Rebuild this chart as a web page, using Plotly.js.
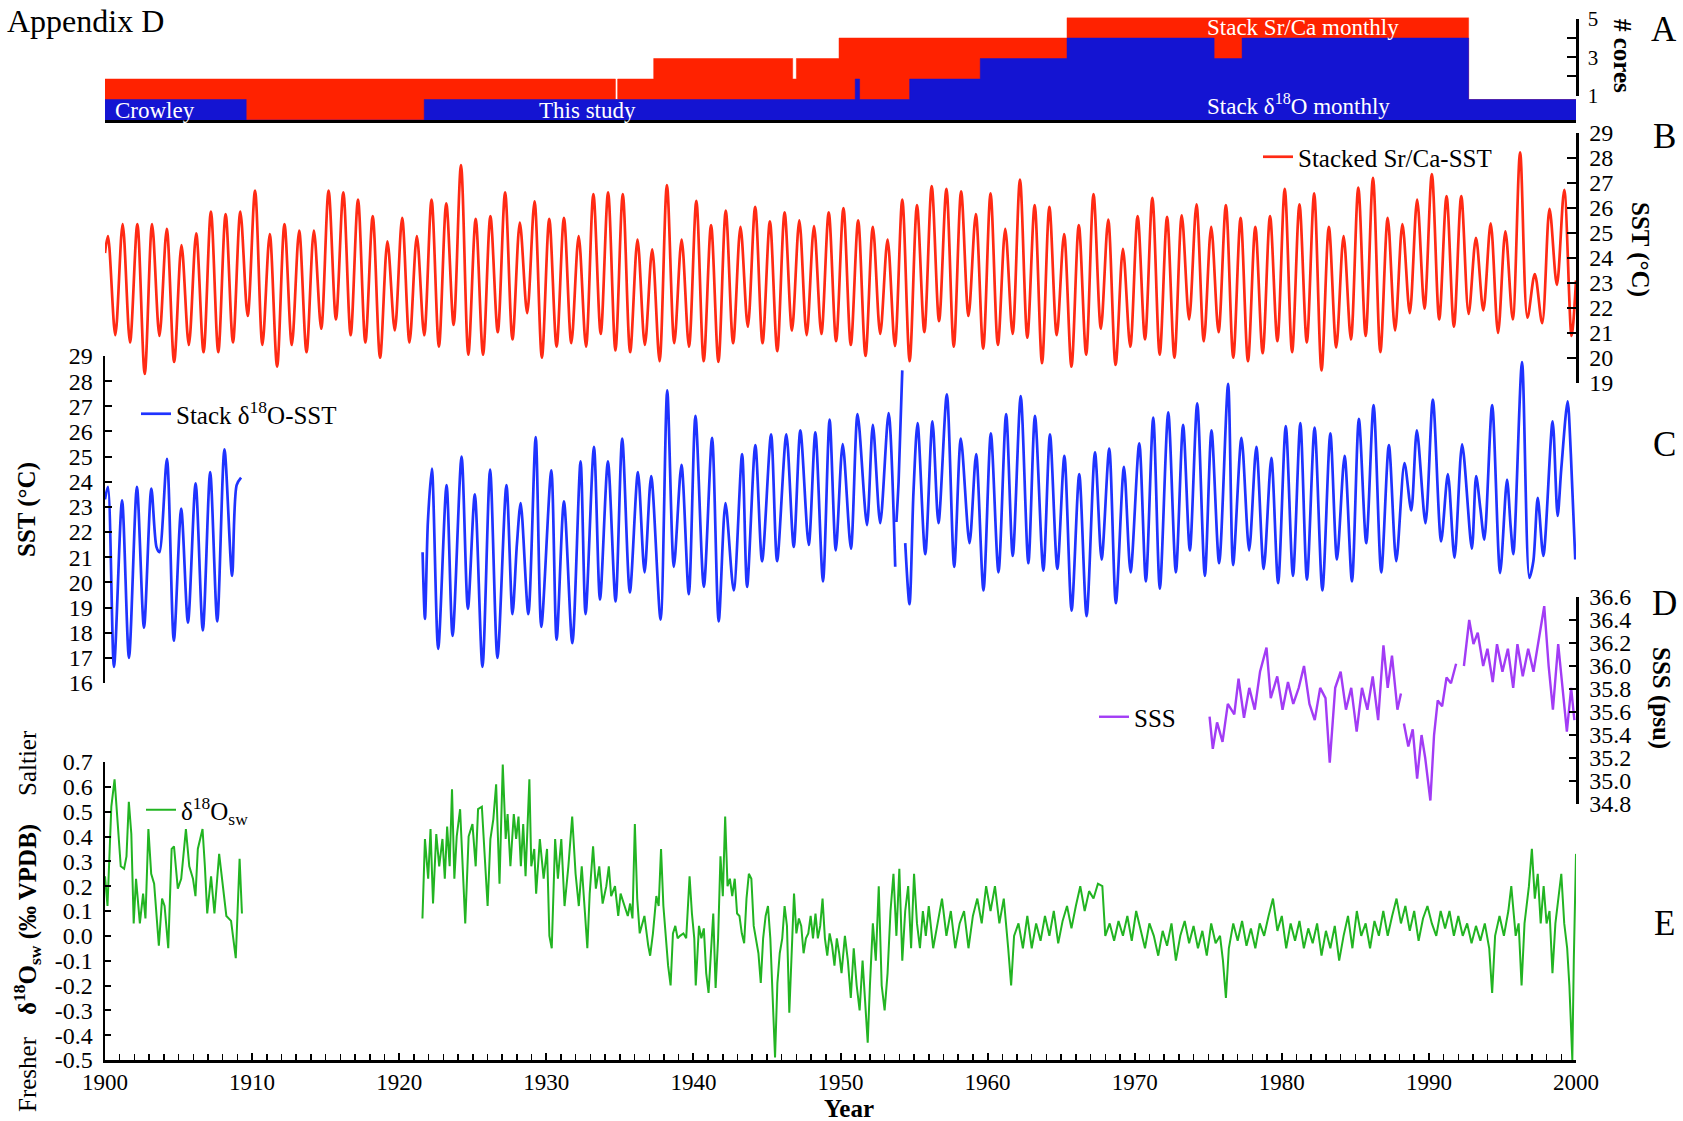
<!DOCTYPE html>
<html><head><meta charset="utf-8">
<script src="https://cdn.plot.ly/plotly-3.0.1.min.js"></script>
<style>html,body{margin:0;padding:0;background:#fff}#chart{width:1683px;height:1121px}</style>
</head><body><div id="chart"></div>
<script>
// ---------------- DATA ----------------
// Panel A: number of cores (step changes)
const srcaCoreYears = [1900, 1934.7, 1934.85, 1937.3, 1946.75, 1947.0, 1949.9, 1965.4, 1992.7, 2000];
const srcaCores     = [2, 1, 2, 3, 2, 3, 4, 5, 1, 1];
const d18CoreYears  = [1900, 1909.6, 1921.7, 1951.0, 1951.3, 1954.7, 1959.5, 1965.4, 1975.4, 1977.3, 1992.7, 2000];
const d18Cores      = [1, 0, 1, 2, 1, 2, 3, 4, 3, 4, 1, 1];

// Panel B: stacked Sr/Ca-SST, yearly warm-season maxima and cold-season minima, 1900-1999
const srcaFirstYear = 1900;
const srcaStart = 24.2, srcaEnd = 23.1;
const srcaMax = [24.88,25.36,25.36,25.36,25.17,24.52,24.99,25.86,25.76,25.86,
 26.7,24.96,25.36,25.1,25.1,26.7,26.63,26.34,25.68,24.67,
 25.61,24.88,26.34,26.19,27.72,25.57,25.68,26.63,25.42,26.27,
 25.57,25.61,24.88,26.56,26.63,26.56,24.74,24.35,26.92,24.74,
 26.29,25.32,25.9,25.25,26.05,25.47,25.83,25.51,25.28,25.83,
 26.0,25.51,25.25,24.74,26.34,26.12,26.88,26.77,26.67,25.76,
 26.59,25.17,27.14,26.12,26.05,24.96,25.32,26.56,25.54,24.37,
 25.68,26.41,25.65,25.71,26.15,25.25,26.12,25.61,25.25,25.68,
 26.77,26.15,26.59,25.25,24.88,26.82,27.21,25.61,25.36,26.34,
 27.36,26.48,26.48,24.81,25.39,25.07,28.23,23.36,25.97,26.73];
const srcaMin = [20.91,20.62,19.36,20.88,19.84,20.52,20.23,20.23,20.62,21.68,
 20.52,19.65,20.52,20.23,21.17,21.54,20.91,20.62,20.01,21.1,
 20.62,20.91,20.45,21.32,20.13,20.13,21.03,20.74,21.79,20.01,
 20.45,20.59,20.45,20.96,20.3,20.23,20.52,19.87,20.59,20.45,
 19.87,19.84,20.59,21.25,20.59,20.27,21.1,20.91,20.96,20.67,
 20.52,20.08,20.96,20.48,19.87,21.03,21.47,20.45,21.68,20.37,
 20.52,20.96,20.81,19.79,20.91,19.65,20.13,21.17,19.72,20.45,
 20.74,20.13,20.01,21.54,20.67,21.03,20.01,19.87,20.19,20.67,
 20.23,20.62,19.5,20.42,20.74,20.88,20.23,21.1,21.79,21.97,
 21.54,21.25,21.76,21.9,21.0,21.54,21.61,21.39,22.92,20.88];

// Panel C: stack d18O-SST [year, degC] segments
const d18SstSeg1 = [[1900.0,23.3],[1900.2,23.8],[1900.61,16.64],[1901.16,23.26],[1901.63,17.0],[1902.17,23.8],[1902.65,18.2],[1903.15,23.73],[1903.5,21.4],[1903.7,21.2],[1904.21,24.91],[1904.68,17.68],[1905.18,22.93],[1905.64,18.4],[1906.16,23.94],[1906.65,18.09],[1907.15,24.38],[1907.63,18.45],[1908.12,25.29],[1908.64,20.26],[1908.95,23.87],[1909.25,24.16]];
const d18SstSeg2 = [[1921.59,21.2],[1921.75,18.55],[1921.95,22.4],[1922.22,24.52],[1922.65,17.36],[1923.22,23.87],[1923.63,17.87],[1924.24,25.0],[1924.67,18.95],[1925.14,23.5],[1925.66,16.64],[1926.18,24.48],[1926.68,17.0],[1927.29,23.87],[1927.7,18.74],[1928.0,21.5],[1928.26,23.15],[1928.78,18.74],[1929.28,25.78],[1929.66,18.23],[1930.34,24.45],[1930.7,17.72],[1931.2,23.22],[1931.77,17.58],[1932.33,24.81],[1932.67,18.74],[1933.24,25.39],[1933.65,19.32],[1934.19,24.81],[1934.71,19.24],[1935.16,25.72],[1935.68,19.6],[1936.23,24.38],[1936.68,20.4],[1937.13,24.23],[1937.77,18.52],[1938.22,27.63],[1938.67,20.62],[1939.19,24.67],[1939.69,19.53],[1940.14,26.62],[1940.71,19.82],[1941.27,25.75],[1941.72,18.45],[1942.18,23.15],[1942.74,19.68],[1943.31,25.1],[1943.65,19.82],[1944.21,25.46],[1944.67,20.84],[1945.28,25.89],[1945.69,20.84],[1946.32,25.89],[1946.82,21.41],[1947.27,26.04],[1947.84,21.49],[1948.29,25.96],[1948.81,20.04],[1949.26,26.47],[1949.68,21.27],[1950.15,25.5],[1950.71,21.34],[1951.16,26.69],[1951.8,22.28],[1952.2,26.26],[1952.7,22.35],[1953.27,26.73],[1953.72,20.62]];
const d18SstSeg3 = [[1953.8,22.4],[1953.95,24.0],[1954.2,28.43]];
const d18SstSeg4 = [[1954.4,21.56],[1954.69,19.13],[1954.96,23.58],[1955.24,26.33],[1955.76,21.12],[1956.25,26.4],[1956.66,22.35],[1957.23,27.48],[1957.73,20.62],[1958.18,25.72],[1958.77,21.56],[1959.22,25.1],[1959.72,19.68],[1960.22,25.92],[1960.74,20.4],[1961.26,26.69],[1961.71,21.05],[1962.25,27.41],[1962.77,20.76],[1963.22,26.62],[1963.79,20.47],[1964.24,25.89],[1964.74,20.54],[1965.22,25.03],[1965.71,18.88],[1966.23,24.3],[1966.73,18.66],[1967.3,25.17],[1967.75,20.91],[1968.27,25.32],[1968.72,19.17],[1969.27,24.59],[1969.72,20.4],[1970.31,25.53],[1970.76,20.04],[1971.26,26.55],[1971.71,19.75],[1972.28,26.76],[1972.8,20.4],[1973.29,26.26],[1973.75,21.27],[1974.25,27.12],[1974.77,20.26],[1975.22,26.04],[1975.74,20.76],[1976.35,27.89],[1976.69,20.69],[1977.26,25.75],[1977.78,21.27],[1978.27,25.39],[1978.77,20.54],[1979.29,24.95],[1979.75,19.97],[1980.27,26.21],[1980.76,20.26],[1981.26,26.33],[1981.71,20.11],[1982.23,26.15],[1982.76,19.68],[1983.3,25.92],[1983.75,20.91],[1984.27,25.03],[1984.77,20.04],[1985.24,26.5],[1985.74,21.56],[1986.24,27.05],[1986.76,20.4],[1987.28,25.46],[1987.78,20.84],[1988.34,24.74],[1988.8,22.86],[1989.18,26.04],[1989.77,22.35],[1990.27,27.27],[1990.83,21.63],[1991.29,24.3],[1991.74,20.98],[1992.26,25.49],[1992.92,21.34],[1993.21,24.23],[1993.5,22.93],[1993.77,21.7],[1994.3,27.05],[1994.84,20.37],[1995.31,24.09],[1995.55,22.28],[1995.74,21.12],[1996.33,28.76],[1996.83,20.18],[1997.1,20.84],[1997.4,23.36],[1997.78,21.05],[1998.41,26.4],[1998.75,22.64],[1999.0,24.52],[1999.43,27.2],[1999.65,25.1],[1999.95,20.91]];

// Panel D: SSS (psu) segments
const sssSeg1 = [[1975.09,35.56],[1975.31,35.28],[1975.6,35.51],[1975.97,35.34],[1976.33,35.67],[1976.77,35.58],[1977.06,35.89],[1977.43,35.55],[1977.79,35.81],[1978.16,35.62],[1978.52,35.95],[1978.96,36.16],[1979.25,35.72],[1979.69,35.91],[1980.05,35.62],[1980.42,35.86],[1980.78,35.67],[1981.15,35.81],[1981.51,36.0],[1981.88,35.67],[1982.24,35.53],[1982.61,35.81],[1982.97,35.72],[1983.26,35.16],[1983.63,35.81],[1984.0,35.95],[1984.36,35.62],[1984.72,35.81],[1985.09,35.43],[1985.45,35.81],[1985.82,35.62],[1986.18,35.91],[1986.55,35.53],[1986.91,36.18],[1987.2,35.81],[1987.49,36.09],[1987.86,35.62],[1988.1,35.76]];
const sssSeg2 = [[1988.3,35.5],[1988.6,35.3],[1988.9,35.45],[1989.2,35.02],[1989.5,35.4],[1989.75,35.2],[1990.1,34.83],[1990.35,35.4],[1990.6,35.7],[1990.9,35.65],[1991.2,35.9],[1991.5,35.85],[1991.85,36.02]];
const sssSeg3 = [[1992.38,36.0],[1992.74,36.4],[1993.03,36.19],[1993.32,36.29],[1993.69,36.0],[1993.98,36.15],[1994.34,35.86],[1994.63,36.19],[1995.0,35.95],[1995.37,36.15],[1995.73,35.81],[1996.02,36.19],[1996.38,35.91],[1996.75,36.15],[1997.11,35.95],[1997.48,36.24],[1997.84,36.52],[1998.14,36.0],[1998.43,35.62],[1998.79,36.19],[1999.08,35.81],[1999.38,35.43],[1999.67,35.81],[1999.89,35.53]];

// Panel E: d18O seawater (permil VPDB) segments
const oswSeg1 = [[1900.0,0.24],[1900.17,0.12],[1900.43,0.52],[1900.65,0.63],[1900.88,0.44],[1901.07,0.28],[1901.3,0.27],[1901.46,0.32],[1901.62,0.54],[1901.79,0.41],[1901.95,0.05],[1902.11,0.23],[1902.37,0.05],[1902.59,0.17],[1902.75,0.07],[1902.95,0.43],[1903.14,0.25],[1903.34,0.21],[1903.66,-0.04],[1903.88,0.15],[1904.05,0.12],[1904.3,-0.05],[1904.53,0.35],[1904.69,0.36],[1904.95,0.19],[1905.18,0.23],[1905.5,0.43],[1905.73,0.28],[1905.98,0.23],[1906.15,0.16],[1906.31,0.35],[1906.63,0.43],[1906.79,0.28],[1906.95,0.09],[1907.21,0.24],[1907.44,0.09],[1907.76,0.33],[1907.99,0.21],[1908.25,0.08],[1908.57,0.06],[1908.73,-0.01],[1908.89,-0.09],[1909.15,0.31],[1909.31,0.09]];
const oswSeg2 = [[1921.58,0.07],[1921.75,0.39],[1921.97,0.23],[1922.13,0.43],[1922.3,0.13],[1922.52,0.41],[1922.72,0.28],[1922.94,0.39],[1923.1,0.23],[1923.26,0.44],[1923.43,0.28],[1923.59,0.59],[1923.75,0.23],[1923.91,0.4],[1924.14,0.51],[1924.33,0.23],[1924.49,0.05],[1924.72,0.4],[1924.98,0.45],[1925.2,0.28],[1925.36,0.51],[1925.62,0.52],[1925.85,0.28],[1926.01,0.12],[1926.2,0.39],[1926.4,0.47],[1926.59,0.61],[1926.82,0.21],[1927.04,0.69],[1927.24,0.39],[1927.37,0.49],[1927.56,0.28],[1927.79,0.49],[1927.95,0.39],[1928.11,0.48],[1928.27,0.28],[1928.43,0.45],[1928.59,0.24],[1928.85,0.63],[1928.98,0.28],[1929.18,0.35],[1929.31,0.17],[1929.56,0.39],[1929.82,0.23],[1930.05,0.35],[1930.21,0.0],[1930.37,-0.05],[1930.6,0.39],[1930.79,0.23],[1931.02,0.39],[1931.24,0.12],[1931.5,0.28],[1931.76,0.48],[1931.99,0.25],[1932.21,0.12],[1932.41,0.28],[1932.63,0.09],[1932.79,-0.05],[1932.95,0.17],[1933.18,0.36],[1933.37,0.19],[1933.6,0.28],[1933.83,0.13],[1934.08,0.2],[1934.25,0.28],[1934.41,0.16],[1934.67,0.2],[1934.89,0.08],[1935.05,0.17],[1935.31,0.12],[1935.54,0.08],[1935.7,0.13],[1935.86,0.07],[1936.02,0.45],[1936.18,0.15],[1936.35,0.01],[1936.51,0.05],[1936.67,0.08],[1936.93,-0.04],[1937.06,-0.08],[1937.25,0.01],[1937.48,0.16],[1937.64,0.12],[1937.8,0.35],[1937.96,0.12],[1938.12,-0.01],[1938.28,-0.12],[1938.45,-0.2],[1938.61,0.01],[1938.77,0.04],[1938.93,-0.01],[1939.09,0.0],[1939.32,0.01],[1939.51,-0.01],[1939.74,0.24],[1939.9,0.09],[1940.06,-0.01],[1940.16,-0.2],[1940.38,0.04],[1940.54,-0.01],[1940.71,0.03],[1940.87,-0.15],[1941.03,-0.23],[1941.19,-0.07],[1941.35,0.09],[1941.51,-0.21],[1941.68,-0.01],[1941.84,0.32],[1942.0,0.16],[1942.16,0.48],[1942.32,0.2],[1942.48,0.23],[1942.64,0.16],[1942.81,0.23],[1942.97,0.09],[1943.13,0.08],[1943.29,0.01],[1943.45,-0.03],[1943.61,0.15],[1943.77,0.25],[1943.94,0.23],[1944.1,0.04],[1944.26,-0.01],[1944.42,-0.07],[1944.58,-0.19],[1944.74,-0.01],[1944.91,0.08],[1945.07,0.12],[1945.23,-0.01],[1945.39,-0.23],[1945.55,-0.49],[1945.71,-0.19],[1945.87,-0.07],[1946.04,-0.01],[1946.2,0.12],[1946.36,0.04],[1946.52,-0.31],[1946.68,-0.07],[1946.84,0.17],[1947.0,0.01],[1947.17,0.07],[1947.33,0.04],[1947.49,-0.07],[1947.65,-0.01],[1947.81,0.01],[1947.97,0.08],[1948.13,-0.01],[1948.3,0.09],[1948.46,-0.01],[1948.62,0.04],[1948.78,0.15],[1948.94,-0.01],[1949.1,-0.08],[1949.26,0.01],[1949.43,-0.04],[1949.59,-0.12],[1949.75,-0.01],[1949.91,-0.07],[1950.07,-0.15],
[1950.3,0.0],[1950.5,-0.1],[1950.7,-0.25],[1950.9,-0.05],[1951.1,-0.2],[1951.3,-0.3],[1951.5,-0.1],[1951.7,-0.3],[1951.85,-0.43],[1952.0,-0.2],[1952.2,0.05],[1952.4,-0.1],[1952.6,0.2],[1952.8,-0.2],[1953.0,-0.3],[1953.2,-0.15],[1953.4,0.1],[1953.6,0.25],[1953.8,0.0],[1954.0,0.27],[1954.2,-0.1],[1954.4,0.1],[1954.6,0.2],[1954.8,-0.05],[1955.0,0.25],[1955.2,0.05],[1955.4,-0.05],[1955.6,0.1],[1955.8,0.0],[1956.0,0.12],[1956.3,-0.05],[1956.6,0.05],[1956.9,0.15],[1957.2,0.0],[1957.5,0.1],[1957.8,-0.05],[1958.1,0.05],[1958.4,0.1],[1958.7,-0.05],[1959.0,0.08],[1959.3,0.15],[1959.6,0.05],[1959.9,0.2],[1960.2,0.1],[1960.5,0.2],[1960.8,0.05],[1961.1,0.15],[1961.4,-0.05],[1961.6,-0.2],[1961.8,0.0],[1962.1,0.05],[1962.4,-0.05],[1962.7,0.08],[1963.0,-0.05],[1963.3,0.05],[1963.6,-0.02],[1963.9,0.08],[1964.2,0.0],[1964.5,0.1],[1964.8,-0.03],[1965.1,0.06],[1965.4,0.12],[1965.7,0.03],[1966.0,0.12],[1966.3,0.2],[1966.6,0.1],[1966.9,0.18],[1967.2,0.15],[1967.5,0.21],[1967.8,0.2],[1968.0,0.0],[1968.3,0.05],[1968.6,-0.02],[1968.9,0.06],[1969.2,0.0],[1969.5,0.08],[1969.8,-0.02],[1970.1,0.1],[1970.4,0.03],[1970.7,-0.05],[1971.0,0.05],[1971.3,0.0],[1971.6,-0.08],[1971.9,0.02],[1972.2,-0.04],[1972.5,0.05],[1972.8,-0.1],[1973.1,0.0],[1973.4,0.06],[1973.7,-0.03],[1974.0,0.04],[1974.3,-0.05],[1974.6,0.02],[1974.9,-0.08],[1975.2,0.05],[1975.5,-0.03],[1975.8,0.0],[1976.0,-0.1],[1976.2,-0.25],[1976.4,-0.05],[1976.7,0.05],[1977.0,-0.02],[1977.3,0.06],[1977.6,-0.04],[1977.9,0.03],[1978.2,-0.05],[1978.5,0.05],[1978.8,0.0],[1979.1,0.08],[1979.4,0.15],[1979.7,0.02],[1980.0,0.08],[1980.3,-0.05],[1980.6,0.05],[1980.9,-0.02],[1981.2,0.06],[1981.5,-0.05],[1981.8,0.03],[1982.1,-0.03],[1982.4,0.05],[1982.7,-0.08],[1983.0,0.02],[1983.3,-0.05],[1983.6,0.04],[1983.9,-0.1],[1984.2,0.0],[1984.5,0.08],[1984.8,-0.05],[1985.1,0.1],[1985.4,0.0],[1985.7,0.05],[1986.0,-0.05],[1986.3,0.06],[1986.6,0.0],[1986.9,0.1],[1987.2,0.0],[1987.5,0.08],[1987.8,0.15],[1988.1,0.05],[1988.4,0.12],[1988.7,0.02],[1989.0,0.1],[1989.3,-0.02],[1989.6,0.07],[1989.9,0.12],[1990.2,0.05],[1990.5,0.0],[1990.8,0.1],[1991.1,0.03],[1991.4,0.1],[1991.7,0.0],[1992.0,0.08],[1992.3,0.0],[1992.6,0.05],[1992.9,-0.03],[1993.2,0.04],[1993.5,-0.02],[1993.8,0.05],[1994.1,-0.05],[1994.3,-0.23],[1994.5,0.0],[1994.8,0.08],[1995.1,0.0],[1995.4,0.1],[1995.6,0.2],[1995.9,0.0],[1996.1,0.05],[1996.3,-0.2],[1996.5,0.05],[1996.8,0.2],[1997.0,0.35],[1997.2,0.15],[1997.4,0.25],[1997.6,0.05],[1997.8,0.2],[1998.0,0.05],[1998.2,0.1],[1998.4,-0.15],[1998.6,0.05],[1998.8,0.15],[1999.0,0.25],[1999.2,0.05],[1999.4,-0.05],[1999.55,-0.2],[1999.75,-0.5],[1999.85,-0.1],[2000.0,0.33]];

// tick labels
const aTickVals = [1,3,5], aTickText = ['1','3','5'];
const sssTickVals = [34.8,35.0,35.2,35.4,35.6,35.8,36.0,36.2,36.4,36.6];
const sssTickText = ['34.8','35.0','35.2','35.4','35.6','35.8','36.0','36.2','36.4','36.6'];
const oswTickVals = [-0.5,-0.4,-0.3,-0.2,-0.1,0,0.1,0.2,0.3,0.4,0.5,0.6,0.7];
const oswTickText = ['-0.5','-0.4','-0.3','-0.2','-0.1','0.0','0.1','0.2','0.3','0.4','0.5','0.6','0.7'];

// ---------------- BUILD ----------------
const W = 1683, H = 1121;
const FONT = 'Liberation Serif, Times New Roman, serif';
const px = v => v / W;
const py = v => 1 - v / H;

function joinSegs(segs) {
  const x = [], y = [];
  segs.forEach((s, i) => {
    if (i > 0) { x.push(s[0][0]); y.push(null); }
    s.forEach(p => { x.push(p[0]); y.push(p[1]); });
  });
  return {x, y};
}
// Sr/Ca seasonal extremes -> time series
const srcaX = [srcaFirstYear], srcaY = [srcaStart];
srcaMax.forEach((mx, i) => {
  srcaX.push(srcaFirstYear + i + 0.2); srcaY.push(mx);
  srcaX.push(srcaFirstYear + i + 0.7); srcaY.push(srcaMin[i]);
});
srcaX.push(srcaFirstYear + srcaMax.length); srcaY.push(srcaEnd);

const cData = joinSegs([d18SstSeg1, d18SstSeg2, d18SstSeg3, d18SstSeg4]);
const dData = joinSegs([sssSeg1, sssSeg2, sssSeg3]);
const eData = joinSegs([oswSeg1, oswSeg2]);

const RED = '#ff2a14', BLUE = '#1f33ff', PURPLE = '#a23cf5', GREEN = '#22b422';

const traces = [
  {x: srcaCoreYears, y: srcaCores, xaxis: 'x2', yaxis: 'y', mode: 'lines', line: {shape: 'hv', width: 0.5, color: '#ff2200'},
   fill: 'tozeroy', fillcolor: '#ff2200', showlegend: false, hoverinfo: 'skip'},
  {x: d18CoreYears, y: d18Cores, xaxis: 'x2', yaxis: 'y', mode: 'lines', line: {shape: 'hv', width: 0.5, color: '#1414d2'},
   fill: 'tozeroy', fillcolor: '#1414d2', showlegend: false, hoverinfo: 'skip'},
  {x: [1950], y: [null], xaxis: 'x', yaxis: 'y6', mode: 'lines', showlegend: false, hoverinfo: 'skip'},
  {x: srcaX, y: srcaY, xaxis: 'x', yaxis: 'y2', mode: 'lines', name: 'Stacked Sr/Ca-SST', legend: 'legend',
   line: {color: RED, width: 2.7, shape: 'spline', smoothing: 0.9}, hoverinfo: 'skip'},
  {x: cData.x, y: cData.y, xaxis: 'x', yaxis: 'y3', mode: 'lines', name: 'Stack δ<sup>18</sup>O-SST', legend: 'legend2',
   line: {color: BLUE, width: 2.7, shape: 'spline', smoothing: 0.8}, connectgaps: false, hoverinfo: 'skip'},
  {x: dData.x, y: dData.y, xaxis: 'x', yaxis: 'y4', mode: 'lines', name: 'SSS', legend: 'legend3',
   line: {color: PURPLE, width: 2.4}, connectgaps: false, hoverinfo: 'skip'},
  {x: eData.x, y: eData.y, xaxis: 'x', yaxis: 'y5', mode: 'lines', name: 'δ<sup>18</sup>O<sub>sw</sub>', legend: 'legend4',
   line: {color: GREEN, width: 2}, connectgaps: false, hoverinfo: 'skip'}
];

const tickFont = {family: FONT, size: 24, color: '#000'};
const baseAxis = {showgrid: false, zeroline: false, showline: true, linecolor: '#000', linewidth: 2.5,
  ticks: 'inside', tickcolor: '#000', tickwidth: 2, tickfont: tickFont, fixedrange: true};
const xDomain = [px(105), px(1576)];
const legFont = {family: FONT, size: 25, color: '#000'};

const layout = {
  width: W, height: H, margin: {l: 0, r: 0, t: 0, b: 0},
  paper_bgcolor: '#fff', plot_bgcolor: 'rgba(0,0,0,0)', showlegend: true,
  xaxis: Object.assign({}, baseAxis, {domain: xDomain, range: [1900, 2000], anchor: 'y5',
    tick0: 1900, dtick: 10, ticklen: 7, tickfont: {family: FONT, size: 23, color: '#000'},
    minor: {dtick: 1, ticks: 'inside', ticklen: 6, tickwidth: 1.5, tickcolor: '#000'}}),
  xaxis2: {domain: xDomain, matches: 'x', anchor: 'y', showline: true, linecolor: '#000', linewidth: 3,
    ticks: '', showticklabels: false, showgrid: false, zeroline: false},
  yaxis: {domain: [py(120), py(17.5)], range: [0, 5], visible: false, fixedrange: true},
  yaxis6: Object.assign({}, baseAxis, {domain: [py(95.5), py(19)], range: [1, 5], anchor: 'x', side: 'right',
    tickvals: aTickVals, ticktext: aTickText, ticklen: 9, ticklabelstandoff: 5,
    minor: {dtick: 1, ticks: 'inside', ticklen: 9, tickwidth: 2, tickcolor: '#000'},
    tickfont: {family: FONT, size: 21, color: '#000'}}),
  yaxis2: Object.assign({}, baseAxis, {domain: [py(383), py(133)], range: [19, 29], anchor: 'x', side: 'right', dtick: 1, ticklen: 9, ticklabelstandoff: 6}),
  yaxis3: Object.assign({}, baseAxis, {domain: [py(683), py(356)], range: [16, 29], anchor: 'x', side: 'left', dtick: 1, ticklen: 7, ticklabelstandoff: 5}),
  yaxis4: Object.assign({}, baseAxis, {domain: [py(804), py(597)], range: [34.8, 36.6], anchor: 'x', side: 'right',
    tickvals: sssTickVals, ticktext: sssTickText, ticklen: 7, ticklabelstandoff: 6}),
  yaxis5: Object.assign({}, baseAxis, {domain: [py(1060), py(762)], range: [-0.5, 0.7], anchor: 'x', side: 'left',
    tickvals: oswTickVals, ticktext: oswTickText, ticklen: 6, ticklabelstandoff: 5}),
  legend:  {x: px(1258), y: py(157), xanchor: 'left', yanchor: 'middle', bgcolor: 'rgba(0,0,0,0)', font: legFont},
  legend2: {x: px(136), y: py(414), xanchor: 'left', yanchor: 'middle', bgcolor: 'rgba(0,0,0,0)', font: legFont},
  legend3: {x: px(1094), y: py(717), xanchor: 'left', yanchor: 'middle', bgcolor: 'rgba(0,0,0,0)', font: legFont},
  legend4: {x: px(141), y: py(810), xanchor: 'left', yanchor: 'middle', bgcolor: 'rgba(0,0,0,0)', font: legFont},
  annotations: []
};

function ann(text, x, y, opts) {
  layout.annotations.push(Object.assign({text, x: px(x), y: py(y), xref: 'paper', yref: 'paper', showarrow: false,
    xanchor: 'center', yanchor: 'middle', font: {family: FONT, size: 25, color: '#000'}}, opts || {}));
}
const white = {family: FONT, size: 23, color: '#fff'};
ann('Appendix D', 5, 21, {xanchor: 'left', font: {family: FONT, size: 32, color: '#000'}});
ann('Crowley', 113, 110, {xanchor: 'left', font: white});
ann('This study', 587, 110, {font: white});
ann('Stack δ<sup>18</sup>O monthly', 1298, 104, {font: white});
ann('Stack Sr/Ca monthly', 1303, 28, {font: white});
ann('<b># cores</b>', 1623, 56, {textangle: 90});
ann('<b>SST (°C)</b>', 1640, 249, {textangle: 90});
ann('<b>SST (°C)</b>', 27, 510, {textangle: -90});
ann('<b>SSS (psu)</b>', 1661, 698, {textangle: 90});
ann('Saltier', 27, 763, {textangle: -90});
ann('<b>δ<sup>18</sup>O<sub>sw</sub> (‰ VPDB)</b>', 27, 920, {textangle: -90});
ann('Fresher', 27, 1074, {textangle: -90});
ann('<b>Year</b>', 849, 1108);
const letterFont = {family: FONT, size: 35, color: '#000'};
ann('A', 1664, 29, {font: letterFont});
ann('B', 1664, 136, {font: letterFont});
ann('C', 1664, 445, {font: letterFont});
ann('D', 1664, 603, {font: letterFont});
ann('E', 1664, 923, {font: letterFont});

Plotly.newPlot('chart', traces, layout, {staticPlot: true, displayModeBar: false});
</script></body></html>
